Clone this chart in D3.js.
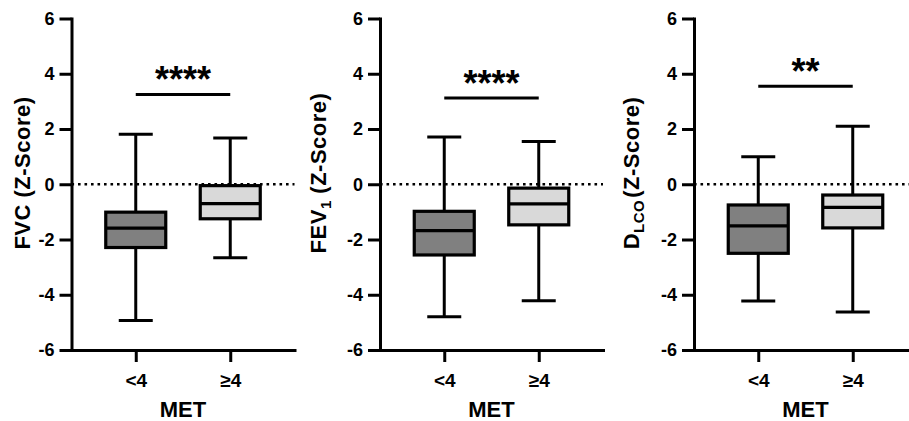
<!DOCTYPE html>
<html>
<head>
<meta charset="utf-8">
<script src="https://cdnjs.cloudflare.com/ajax/libs/d3/7.8.5/d3.min.js"></script>
<style>
  body { margin: 0; background: #fff; }
  svg { display: block; font-family: "Liberation Sans", Arial, Helvetica, sans-serif; font-weight: bold; }
  svg text { font-family: "Liberation Sans", Arial, Helvetica, sans-serif; font-weight: bold; fill: #000; }
</style>
</head>
<body>
<div id="chart"></div>
<script>

// categories on the x axis
var groups = ["<4", "≥4"];

// box stats per group: [min, q1, median, q3, max]
var fvcStats = [[-4.93, -2.29, -1.59, -1.01, 1.81], [-2.66, -1.25, -0.70, -0.05, 1.67]];
var fev1Stats = [[-4.80, -2.56, -1.68, -0.98, 1.71], [-4.22, -1.47, -0.71, -0.14, 1.55]];
var dlcoStats = [[-4.23, -2.50, -1.51, -0.75, 1.00], [-4.62, -1.58, -0.84, -0.39, 2.10]];

// significance bars
var sigLevels = [3.25, 3.12, 3.55];
var sigLabels = ["****", "****", "**"];

var yTicks = [-6, -4, -2, 0, 2, 4, 6];
var fills = ["#808080", "#d9d9d9"];

var c = {
    width: 909,
    height: 421,
    top: 18.5,
    bottom: 350,
    plotWidth: 223
};

var svg = d3.select("#chart").append("svg")
    .attr("width", c.width)
    .attr("height", c.height);

svg.append("rect").attr("width", c.width).attr("height", c.height).attr("fill", "#fff");

var y = d3.scaleLinear()
    .domain([-6, 6])
    .range([c.bottom, c.top]);

var x = d3.scalePoint()
    .domain(groups)
    .range([0, c.plotWidth])
    .padding(0.68);

function boxPanel(stats, sigLevel, sigLabel, left, labelX, labelFn) {

    var g = svg.append("g")
        .attr("transform", "translate(" + left + ",0)");

    //dotted zero line
    g.append("line")
        .attr("x1", 0).attr("x2", c.plotWidth)
        .attr("y1", y(0)).attr("y2", y(0))
        .attr("stroke", "#000")
        .attr("stroke-width", 2.6)
        .attr("stroke-dasharray", "2.6,3.9");

    //one group per box
    var box = g.selectAll(".box")
        .data(stats)
        .enter().append("g")
        .attr("class", "box")
        .attr("transform", function (d, i) { return "translate(" + x(groups[i]) + ",0)"; });

    //whisker
    box.append("line")
        .attr("y1", function (d) { return y(d[0]); })
        .attr("y2", function (d) { return y(d[4]); })
        .attr("stroke", "#000").attr("stroke-width", 3);

    //caps
    [0, 4].forEach(function (k) {
        box.append("line")
            .attr("x1", -17).attr("x2", 17)
            .attr("y1", function (d) { return y(d[k]); })
            .attr("y2", function (d) { return y(d[k]); })
            .attr("stroke", "#000").attr("stroke-width", 3);
    });

    //box
    box.append("rect")
        .attr("x", -30).attr("width", 60)
        .attr("y", function (d) { return y(d[3]); })
        .attr("height", function (d) { return y(d[1]) - y(d[3]); })
        .attr("fill", function (d, i) { return fills[i]; })
        .attr("stroke", "#000").attr("stroke-width", 3.2);

    //median
    box.append("line")
        .attr("x1", -30).attr("x2", 30)
        .attr("y1", function (d) { return y(d[2]); })
        .attr("y2", function (d) { return y(d[2]); })
        .attr("stroke", "#000").attr("stroke-width", 3.2);

    //significance bar
    g.append("line")
        .attr("x1", x(groups[0])).attr("x2", x(groups[1]))
        .attr("y1", y(sigLevel)).attr("y2", y(sigLevel))
        .attr("stroke", "#000").attr("stroke-width", 3);

    g.append("text")
        .attr("x", (x(groups[0]) + x(groups[1])) / 2)
        .attr("y", y(sigLevel) - 2)
        .attr("text-anchor", "middle")
        .style("font-size", "36px")
        .text(sigLabel);

    //axes (plain hyphen for negatives, like the original)
    var yAxis = g.append("g")
        .call(d3.axisLeft(y).tickValues(yTicks).tickSize(12).tickPadding(5).tickSizeOuter(0)
            .tickFormat(function (d) { return String(d); }));

    var xAxis = g.append("g")
        .attr("transform", "translate(0," + c.bottom + ")")
        .call(d3.axisBottom(x).tickSize(12).tickPadding(12).tickSizeOuter(0));

    [yAxis, xAxis].forEach(function (a) {
        a.attr("font-family", null).attr("font-size", null);
        a.select(".domain").attr("stroke-width", 3).attr("stroke-linecap", "square");
        a.selectAll(".tick line").attr("stroke-width", 3);
    });
    yAxis.selectAll("text").style("font-size", "18px");
    xAxis.selectAll("text").style("font-size", "19px");

    //x title
    g.append("text")
        .attr("x", (x(groups[0]) + x(groups[1])) / 2)
        .attr("y", 417)
        .attr("text-anchor", "middle")
        .style("font-size", "22px")
        .text("MET");

    //y title
    var t = g.append("text")
        .attr("transform", "translate(" + (labelX - left) + ",173) rotate(-90)")
        .attr("dy", "0.36em")
        .attr("text-anchor", "middle")
        .style("font-size", "22px")
        .style("letter-spacing", "0.5px");
    labelFn(t);
}

boxPanel(fvcStats, sigLevels[0], sigLabels[0], 71.5, 22, function (t) {
    t.text("FVC (Z-Score)");
});

boxPanel(fev1Stats, sigLevels[1], sigLabels[1], 380, 318, function (t) {
    t.append("tspan").text("FEV");
    t.append("tspan").style("font-size", "15px").attr("dy", 5).text("1");
    t.append("tspan").attr("dy", -5).text(" (Z-Score)");
});

boxPanel(dlcoStats, sigLevels[2], sigLabels[2], 694, 631, function (t) {
    t.append("tspan").text("D");
    t.append("tspan").style("font-size", "15px").attr("dy", 5).text("LCO");
    t.append("tspan").attr("dy", -5).attr("dx", 2).text("(Z-Score)");
});

</script>
</body>
</html>
